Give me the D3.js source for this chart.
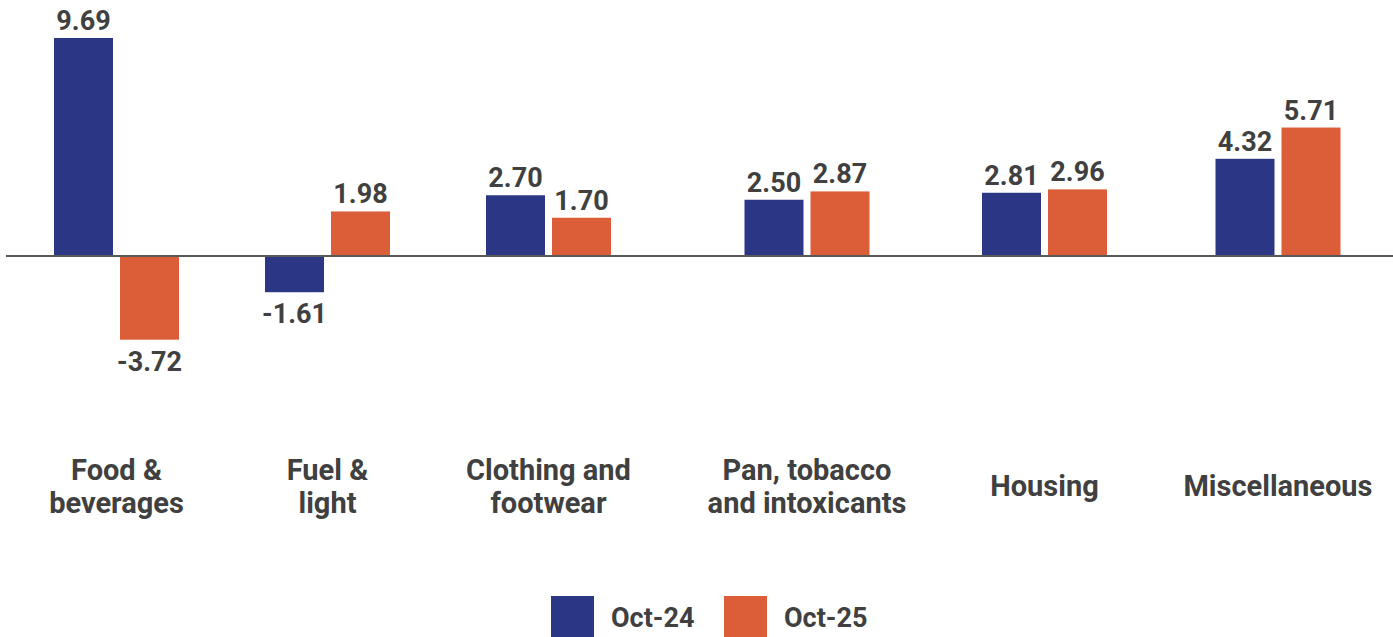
<!DOCTYPE html>
<html>
<head>
<meta charset="utf-8">
<script src="https://cdn.jsdelivr.net/npm/d3@7"></script>
<style>
  html, body { margin: 0; padding: 0; background: #fff; }
  svg { display: block; font-family: Roboto, "Noto Sans", sans-serif; }
</style>
</head>
<body>
<svg id="chart" width="1393" height="637"></svg>
<script>
// Category groups and the two comparison months
const categories = ["Food & beverages", "Fuel & light", "Clothing and footwear",
                    "Pan, tobacco and intoxicants", "Housing", "Miscellaneous"];
const categoryLines = [["Food &", "beverages"], ["Fuel &", "light"], ["Clothing and", "footwear"],
                       ["Pan, tobacco", "and intoxicants"], ["Housing"], ["Miscellaneous"]];
const seriesNames = ["Oct-24", "Oct-25"];
const oct24 = [9.69, -1.61, 2.70, 2.50, 2.81, 4.32];
const oct25 = [-3.72, 1.98, 1.70, 2.87, 2.96, 5.71];

const seriesValues = [oct24, oct25];
const colors = ["#2B3784", "#DC5E39"];
const textColor = "#404040";

const svg = d3.select("#chart");
const W = 1393;

// Group centres along the baseline
const groupCentres = [116.5, 327.5, 548.5, 807, 1044.5, 1278];
const x0 = d3.scaleOrdinal().domain(categories).range(groupCentres);
const groupWidth = 125;
const x1 = d3.scaleBand().domain(seriesNames).range([-groupWidth / 2, groupWidth / 2])
  .paddingInner(7 / 66).paddingOuter(0);

const y = d3.scaleLinear().domain([-5, 10]).range([256 + 5 * 22.5, 256 - 10 * 22.5]);

const rows = categories.map((c, i) => ({
  category: c,
  lines: categoryLines[i],
  values: seriesNames.map((s, j) => ({ series: s, idx: j, value: seriesValues[j][i] }))
}));

const groups = svg.selectAll("g.group").data(rows).join("g")
  .attr("class", "group")
  .attr("transform", d => `translate(${x0(d.category)},0)`);

groups.selectAll("rect").data(d => d.values).join("rect")
  .attr("x", d => x1(d.series))
  .attr("width", x1.bandwidth())
  .attr("y", d => y(Math.max(0, d.value)))
  .attr("height", d => Math.abs(y(d.value) - y(0)))
  .attr("fill", d => colors[d.idx]);

const valueSize = 27;
groups.selectAll("text.value").data(d => d.values).join("text")
  .attr("class", "value")
  .attr("x", d => x1(d.series) + x1.bandwidth() / 2)
  .attr("y", d => d.value >= 0 ? y(d.value) - 8 : y(d.value) + 12 + 0.711 * valueSize)
  .attr("text-anchor", "middle")
  .attr("font-size", valueSize)
  .attr("font-weight", 700)
  .attr("fill", textColor)
  .text(d => d.value.toFixed(2));

// Zero baseline
svg.append("line")
  .attr("x1", 6).attr("x2", W)
  .attr("y1", y(0)).attr("y2", y(0))
  .attr("stroke", "#595959").attr("stroke-width", 2);

// Category labels, wrapped and centred under each group
const catSize = 29, lineH = 33, labelMid = 496;
groups.each(function (d) {
  const t = d3.select(this).append("text")
    .attr("text-anchor", "middle")
    .attr("font-size", catSize)
    .attr("font-weight", 700)
    .attr("fill", textColor);
  const n = d.lines.length;
  d.lines.forEach((line, i) => {
    t.append("tspan").attr("x", 0)
      .attr("y", labelMid + (i - (n - 1) / 2) * lineH)
      .text(line);
  });
});

// Legend
const legend = svg.append("g");
const legendX = [551, 724];
seriesNames.forEach((s, i) => {
  const g = legend.append("g").attr("transform", `translate(${legendX[i]},596)`);
  g.append("rect").attr("width", 43).attr("height", 41).attr("fill", colors[i]);
  g.append("text").attr("x", 60).attr("y", 31)
    .attr("font-size", 27).attr("font-weight", 700).attr("fill", textColor)
    .text(s);
});
</script>
</body>
</html>
